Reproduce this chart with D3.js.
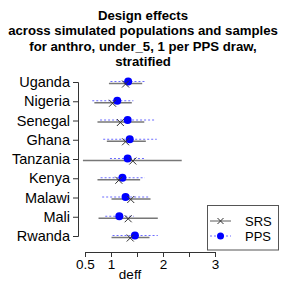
<!DOCTYPE html>
<html><head><meta charset="utf-8">
<script src="https://cdn.jsdelivr.net/npm/d3@7"></script>
<style>body{margin:0;background:#fff}svg{display:block}text{font-family:"Liberation Sans",Arial,sans-serif}</style>
</head><body>
<svg id="c" width="285" height="285"></svg>
<script>
const titleLines = ["Design effects","across simulated populations and samples","for anthro, under_5, 1 per PPS draw,","stratified"];
const countries = ["Uganda","Nigeria","Senegal","Ghana","Tanzania","Kenya","Malawi","Mali","Rwanda"];
const srsEst = [1.28,1.03,1.18,1.28,1.42,1.15,1.38,1.33,1.37];
const srsLo  = [0.96,0.68,0.74,0.92,0.46,0.74,1.01,0.76,1.01];
const srsHi  = [1.60,1.40,1.64,1.67,2.36,1.56,1.76,1.90,1.74];
const ppsEst = [1.33,1.12,1.32,1.36,1.32,1.22,1.28,1.16,1.46];
const ppsLo  = [0.99,0.64,0.79,0.85,0.98,0.80,0.83,0.89,1.03];
const ppsHi  = [1.67,1.43,1.85,1.88,1.67,1.65,1.72,1.44,1.90];
const xTicks = [0.5,1,1.5,2,2.5,3];
const xTickLabels = ["0.5","1","","2","","3"];
const legendLabels = ["SRS","PPS"];

const svg = d3.select("#c");
const x = d3.scaleLinear().domain([0.5,3]).range([85,215]);
const y = d3.scalePoint().domain(countries).range([82,236]);

svg.append("g").selectAll("text").data(titleLines).join("text")
  .attr("x",143).attr("y",(d,i)=>19.5+i*15.5).attr("text-anchor","middle")
  .attr("font-weight","bold").attr("font-size",13.2).text(d=>d);

// x axis
const xa = svg.append("g").attr("transform","translate(0,252)")
  .call(d3.axisBottom(x).tickValues(xTicks).tickFormat((d,i)=>xTickLabels[i]).tickSizeOuter(0).tickSize(5).tickPadding(2));
xa.select(".domain").attr("stroke","#333");
xa.selectAll(".tick line").attr("stroke","#333");
xa.selectAll("text").attr("font-size",13.5).attr("fill","#000").attr("font-family","Liberation Sans, Arial, sans-serif");
svg.append("text").attr("x",130).attr("y",279).attr("text-anchor","middle").attr("font-size",13.5).text("deff");

// y axis
const ya = svg.append("g").attr("transform","translate(78,0)")
  .call(d3.axisLeft(y).tickSizeOuter(0).tickSize(5).tickPadding(3));
ya.select(".domain").attr("stroke","#333");
ya.selectAll(".tick line").attr("stroke","#333");
ya.selectAll("text").attr("font-size",14.5).attr("fill","#000").attr("font-family","Liberation Sans, Arial, sans-serif");

const g = svg.append("g");
// SRS
g.selectAll("line.srs").data(countries).join("line").attr("class","srs")
  .attr("x1",(d,i)=>x(srsLo[i])).attr("x2",(d,i)=>x(srsHi[i]))
  .attr("y1",d=>y(d)+1.5).attr("y2",d=>y(d)+1.5)
  .attr("stroke","#777").attr("stroke-width",1.3);
// PPS
g.selectAll("line.pps").data(countries).join("line").attr("class","pps")
  .attr("x1",(d,i)=>x(ppsLo[i])).attr("x2",(d,i)=>x(ppsHi[i]))
  .attr("y1",d=>y(d)-0.5).attr("y2",d=>y(d)-0.5)
  .attr("stroke","#6b6bff").attr("stroke-width",1).attr("stroke-dasharray","2,2");
g.selectAll("circle.pps").data(countries).join("circle").attr("class","pps")
  .attr("cx",(d,i)=>x(ppsEst[i])).attr("cy",d=>y(d)-0.5).attr("r",4).attr("fill","#0000ff");
const cross = (sel,cx,cy,s)=>{
  sel.append("path").attr("d",`M${cx-s},${cy-s}L${cx+s},${cy+s}M${cx-s},${cy+s}L${cx+s},${cy-s}`)
    .attr("stroke","#333").attr("stroke-width",1).attr("fill","none");
};
countries.forEach((d,i)=>cross(g,x(srsEst[i]),y(d)+2,3.5));

// legend
const lg = svg.append("g");
lg.append("rect").attr("x",207.5).attr("y",205.5).attr("width",71).attr("height",44.5)
  .attr("fill","#fff").attr("stroke","#555");
lg.append("line").attr("x1",210).attr("x2",231).attr("y1",221).attr("y2",221).attr("stroke","#333").attr("stroke-width",0.8);
cross(lg,220.5,221,3);
lg.append("line").attr("x1",210).attr("x2",231).attr("y1",236).attr("y2",236).attr("stroke","#6b6bff").attr("stroke-dasharray","2,2");
lg.append("circle").attr("cx",220.5).attr("cy",236).attr("r",3.5).attr("fill","#0000ff");
lg.selectAll("text").data(legendLabels).join("text").attr("x",245).attr("y",(d,i)=>225.5+i*15.5)
  .attr("font-size",13).text(d=>d);
</script>
</body></html>
